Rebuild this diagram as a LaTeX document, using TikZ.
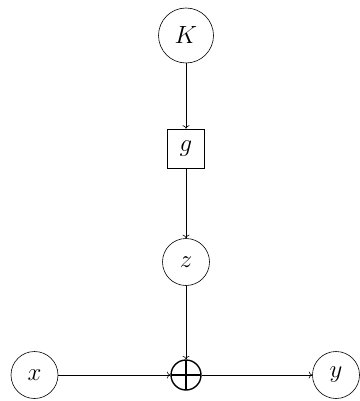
\documentclass[tikz,border=0pt]{standalone}
\usetikzlibrary{arrows.meta}
\begin{document}
\begin{tikzpicture}[x=1pt,y=-1pt,
  var/.style={circle,draw,line width=0.6pt,minimum size=47pt,inner sep=0pt,font=\fontsize{26}{30}\selectfont},
  fbox/.style={rectangle,draw,line width=0.6pt,minimum width=37pt,minimum height=39pt,inner sep=0pt,font=\fontsize{26}{30}\selectfont},
  pls/.style={circle,draw,line width=1.4pt,minimum size=30pt,inner sep=0pt,
    path picture={\draw[line width=1.4pt] (path picture bounding box.north) -- (path picture bounding box.south)
      (path picture bounding box.west) -- (path picture bounding box.east);}},
  arr/.style={-{To[length=3.5pt,width=7pt]},line width=0.6pt}]
\useasboundingbox (0,0) rectangle (359,401);
\node[var,minimum size=55pt] (K) at (186,35.5) {$K$};
\node[fbox] (g) at (186,148.5) {$g$};
\node[var] (z) at (186,262) {$z$};
\node[var] (x) at (34.5,375) {$x$};
\node[pls] (p) at (186,375) {};
\node[var] (y) at (336,375) {$y$};
\draw[arr] (K) -- (g);
\draw[arr] (g) -- (z);
\draw[arr] (z) -- (p);
\draw[arr] (x) -- (p);
\draw[arr] (p) -- (y);
\end{tikzpicture}
\end{document}
